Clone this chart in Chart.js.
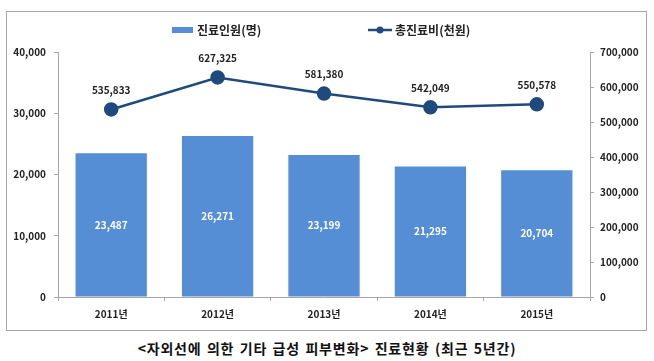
<!DOCTYPE html>
<html>
<head>
<meta charset="utf-8">
<script src="https://cdn.jsdelivr.net/npm/chart.js@4"></script>
<style>
    body { margin: 0; background: #fff; width: 654px; height: 361px; position: relative; overflow: hidden; }
    #box { position: absolute; left: 6px; top: 11px; width: 639px; height: 318px; border: 1px solid #a6a6a6; }
    #caption { position: absolute; left: 0; width: 654px; top: 338px; text-align: center;
        font-family: 'Noto Sans CJK KR'; font-weight: bold; font-size: 14px; color: #111;
        letter-spacing: 0.8px; word-spacing: 1.5px; }
</style>
</head>
<body>
<div id="box"><canvas id="costChart"></canvas></div>
<div id="caption">&lt;자외선에 의한 기타 급성 피부변화&gt; 진료현황 (최근 5년간)</div>
<script>
const years = ['2011년', '2012년', '2013년', '2014년', '2015년'];
const patients = [23487, 26271, 23199, 21295, 20704];
const totalCost = [535833, 627325, 581380, 542049, 550578];
const leftTicks = [0, 10000, 20000, 30000, 40000];
const rightTicks = [0, 100000, 200000, 300000, 400000, 500000, 600000, 700000];

const FONT = 'Noto Sans CJK KR';
const BAR_COLOR = '#558ed5';
const LINE_COLOR = '#1f4a7e';
const AXIS_COLOR = '#a6a6a6';

// value labels on bars (white, centred) and above line points
const valueLabels = {
    id: 'valueLabels',
    afterDatasetsDraw(chart) {
        const ctx = chart.ctx;
        ctx.save();
        ctx.font = 'bold 10px "' + FONT + '"';
        ctx.textAlign = 'center';
        ctx.textBaseline = 'middle';
        chart.getDatasetMeta(0).data.forEach((bar, i) => {
            ctx.fillStyle = '#ffffff';
            ctx.fillText(patients[i].toLocaleString('en-US'), bar.x, (bar.y + bar.base) / 2);
        });
        chart.getDatasetMeta(1).data.forEach((pt, i) => {
            ctx.fillStyle = '#222222';
            ctx.fillText(totalCost[i].toLocaleString('en-US'), pt.x, pt.y - 19);
        });
        ctx.restore();
    }
};

// legend drawn like the original: bar swatch and line-with-marker
const topLegend = {
    id: 'topLegend',
    afterDraw(chart) {
        const ctx = chart.ctx;
        const y = 18;
        ctx.save();
        ctx.font = 'bold 12px "' + FONT + '"';
        ctx.textBaseline = 'middle';
        ctx.fillStyle = BAR_COLOR;
        ctx.fillRect(165, y - 3, 21, 6);
        ctx.fillStyle = '#222222';
        ctx.fillText('진료인원(명)', 190, y);
        ctx.strokeStyle = LINE_COLOR;
        ctx.lineWidth = 2.5;
        ctx.beginPath();
        ctx.moveTo(361, y);
        ctx.lineTo(385, y);
        ctx.stroke();
        ctx.fillStyle = LINE_COLOR;
        ctx.beginPath();
        ctx.arc(373, y, 3.5, 0, Math.PI * 2);
        ctx.fill();
        ctx.fillStyle = '#222222';
        ctx.fillText('총진료비(천원)', 388, y);
        ctx.restore();
    }
};

const tickFont = { family: FONT, size: 10, weight: 'bold' };

new Chart(document.getElementById('costChart'), {
    data: {
        labels: years,
        datasets: [{
            type: 'bar',
            label: '진료인원(명)',
            data: patients,
            backgroundColor: BAR_COLOR,
            barPercentage: 0.67,
            categoryPercentage: 1,
            yAxisID: 'y',
            order: 2
        }, {
            type: 'line',
            label: '총진료비(천원)',
            data: totalCost,
            borderColor: LINE_COLOR,
            backgroundColor: LINE_COLOR,
            borderWidth: 2.5,
            pointRadius: 6,
            pointHoverRadius: 6,
            tension: 0,
            yAxisID: 'y1',
            order: 1
        }]
    },
    options: {
        responsive: true,
        maintainAspectRatio: false,
        animation: false,
        layout: { padding: { top: 40, left: 0, right: 0, bottom: 0 } },
        plugins: {
            legend: { display: false },
            tooltip: { enabled: false }
        },
        scales: {
            x: {
                offset: true,
                grid: { display: true, drawOnChartArea: false, offset: true, color: AXIS_COLOR, tickLength: 4 },
                border: { color: AXIS_COLOR },
                ticks: { font: tickFont, color: '#222', padding: 7 },
                afterFit(scale) { scale.height = 33; }
            },
            y: {
                position: 'left',
                min: 0,
                max: 40000,
                afterBuildTicks(scale) { scale.ticks = leftTicks.map(v => ({ value: v })); },
                grid: { drawOnChartArea: false, color: AXIS_COLOR, tickLength: 4 },
                border: { color: AXIS_COLOR },
                ticks: { font: tickFont, color: '#222', padding: 8,
                    callback: v => v.toLocaleString('en-US') },
                afterFit(scale) { scale.width = 51; }
            },
            y1: {
                position: 'right',
                min: 0,
                max: 700000,
                afterBuildTicks(scale) { scale.ticks = rightTicks.map(v => ({ value: v })); },
                grid: { drawOnChartArea: false, color: AXIS_COLOR, tickLength: 4 },
                border: { color: AXIS_COLOR },
                ticks: { font: tickFont, color: '#222', padding: 6,
                    callback: v => v.toLocaleString('en-US') },
                afterFit(scale) { scale.width = 56; }
            }
        }
    },
    plugins: [valueLabels, topLegend]
});
</script>
</body>
</html>
